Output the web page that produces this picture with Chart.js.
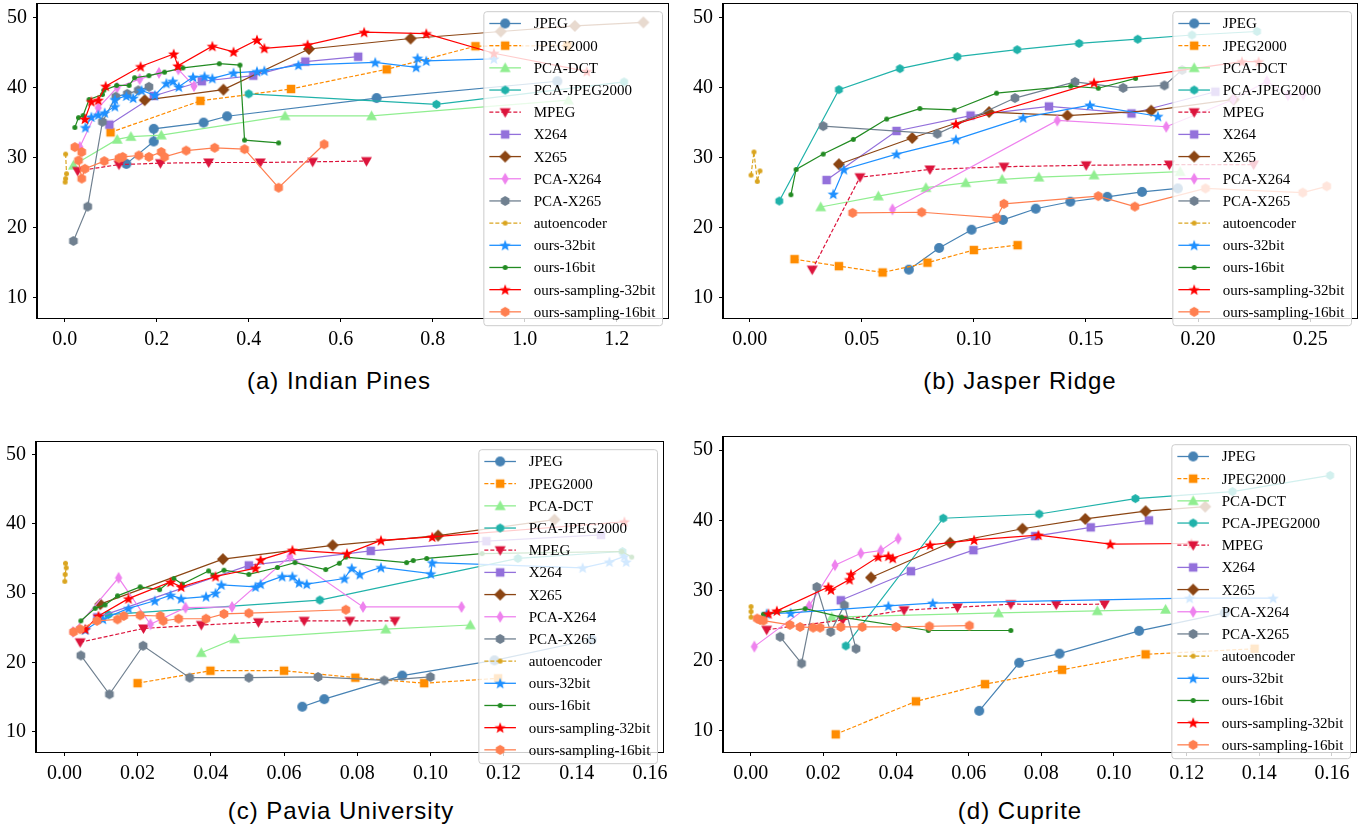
<!DOCTYPE html>
<html>
<head>
<meta charset="utf-8">
<script src="https://cdn.jsdelivr.net/npm/chart.js@4/dist/chart.umd.min.js"></script>
<style>
  body { margin: 0; background: #fff; }
  #fig { position: relative; width: 1371px; height: 831px; overflow: hidden; }
  canvas { position: absolute; }
  .title { position: absolute; font: 24px "Liberation Sans", Arial, sans-serif; letter-spacing: 1px;
           transform: translate(-50%, -50%); white-space: nowrap; color: #000; }
</style>
</head>
<body>
<div id="fig"></div>
<script>
// ---- data -------------------------------------------------------------
const methods = ['JPEG', 'JPEG2000', 'PCA-DCT', 'PCA-JPEG2000', 'MPEG', 'X264', 'X265', 'PCA-X264',
                 'PCA-X265', 'autoencoder', 'ours-32bit', 'ours-16bit', 'ours-sampling-32bit', 'ours-sampling-16bit'];
const panelTitles = ['(a) Indian Pines', '(b) Jasper Ridge', '(c) Pavia University', '(d) Cuprite'];
const yTicks = [10, 20, 30, 40, 50];
const pinesXTicks = [0, 0.2, 0.4, 0.6, 0.8, 1.0, 1.2];
const jasperXTicks = [0, 0.05, 0.10, 0.15, 0.20, 0.25];
const paviaXTicks = [0, 0.02, 0.04, 0.06, 0.08, 0.10, 0.12, 0.14, 0.16];
const cupriteXTicks = [0, 0.02, 0.04, 0.06, 0.08, 0.10, 0.12, 0.14, 0.16];

// (a) Indian Pines
const pines_jpeg = [[0.134,29.1],[0.1935,32.3],[0.1935,34.1],[0.302,35.0],[0.353,35.9],[0.678,38.5],[1.071,40.9]];
const pines_jpeg2000 = [[0.0996,33.6],[0.295,38.1],[0.492,39.8],[0.7,42.6],[0.893,45.9],[1.093,46.0]];
const pines_pcadct = [[0.019,28.9],[0.114,32.6],[0.144,33.0],[0.21,33.2],[0.479,35.95],[0.667,35.95],[1.095,38.2]];
const pines_pcajpeg2000 = [[0.4,39.1],[0.808,37.6],[1.216,40.8]];
const pines_mpeg = [[0.028,28.1],[0.118,29.0],[0.208,29.2],[0.313,29.3],[0.425,29.3],[0.539,29.4],[0.656,29.5]];
const pines_x264 = [[0.097,34.7],[0.1935,38.8],[0.298,40.9],[0.41,41.7],[0.523,43.7],[0.638,44.4]];
const pines_x265 = [[0.174,38.2],[0.345,39.7],[0.531,45.5],[0.752,47.0],[0.948,48.0],[1.109,48.8],[1.258,49.3]];
const pines_pcax264 = [[0.033,31.5],[0.073,37.1],[0.114,40.0],[0.163,41.2],[0.205,42.1],[0.247,42.6],[0.281,40.2]];
const pines_pcax265 = [[0.019,18.1],[0.05,23.0],[0.082,35.1],[0.111,38.7],[0.136,39.1],[0.16,39.6],[0.183,40.1]];
const pines_autoencoder = [[0.002,30.5],[0.004,27.7],[0.002,27.0],[0.001,26.5]];
const pines_ours32 = [[0.045,34.3],[0.058,35.8],[0.073,36.1],[0.087,36.4],[0.109,37.3],[0.109,38.3],[0.134,38.8],[0.149,38.5],
  [0.167,39.6],[0.196,38.9],[0.221,40.6],[0.235,40.9],[0.248,40.1],[0.279,41.5],[0.304,41.6],[0.321,41.3],[0.367,42.1],
  [0.418,42.3],[0.434,42.4],[0.508,43.2],[0.675,43.6],[0.764,42.9],[0.767,44.2],[0.786,43.8],[0.933,44.1]];
const pines_ours16 = [[0.022,34.3],[0.03,35.7],[0.04,36.0],[0.053,38.3],[0.082,39.0],[0.085,39.6],[0.113,40.3],[0.14,40.3],
  [0.152,41.4],[0.183,41.7],[0.217,42.2],[0.257,42.8],[0.336,43.4],[0.381,43.2],[0.391,32.5],[0.465,32.1]];
const pines_samp32 = [[0.044,35.5],[0.058,38.0],[0.073,38.2],[0.089,40.2],[0.165,43.0],[0.237,44.8],[0.246,43.1],[0.321,45.9],
  [0.367,45.1],[0.418,46.8],[0.434,45.6],[0.528,46.1],[0.651,47.9],[0.786,47.7],[0.933,44.9],[1.135,42.3]];
const pines_samp16 = [[0.022,31.5],[0.037,30.8],[0.03,29.6],[0.037,27.0],[0.044,28.4],[0.086,29.5],[0.118,29.9],[0.126,30.1],
  [0.161,30.3],[0.183,30.1],[0.21,30.8],[0.217,30.1],[0.264,31.0],[0.326,31.4],[0.391,31.2],[0.465,25.7],[0.564,31.9]];

// (b) Jasper Ridge
const jasper_jpeg = [[0.071,14.0],[0.0845,17.1],[0.099,19.7],[0.113,21.1],[0.1276,22.7],[0.143,23.7],[0.1595,24.4],[0.175,25.1],[0.191,25.6]];
const jasper_jpeg2000 = [[0.020,15.5],[0.0398,14.5],[0.0593,13.6],[0.0793,15.0],[0.1,16.8],[0.1195,17.5]];
const jasper_pcadct = [[0.0317,22.95],[0.0574,24.5],[0.0786,25.7],[0.0964,26.4],[0.1126,26.9],[0.129,27.2],[0.1536,27.5],[0.192,28.0]];
const jasper_pcajpeg2000 = [[0.0132,23.8],[0.0398,39.7],[0.067,42.7],[0.0926,44.4],[0.1193,45.4],[0.1469,46.3],[0.1731,46.9],[0.1973,47.5],[0.2263,48.0]];
const jasper_mpeg = [[0.0279,14.0],[0.0492,27.2],[0.0804,28.3],[0.1134,28.7],[0.1501,28.9],[0.1872,29.0],[0.2248,29.0]];
const jasper_x264 = [[0.0343,26.8],[0.0655,33.8],[0.0985,36.0],[0.1335,37.3],[0.1703,36.3],[0.2077,39.4]];
const jasper_x265 = [[0.0398,29.05],[0.0725,32.8],[0.1068,36.5],[0.1417,36.0],[0.1791,36.7],[0.2159,38.3]];
const jasper_pcax264 = [[0.0637,22.6],[0.1372,35.3],[0.1858,34.4],[0.2157,38.3],[0.2307,40.9],[0.2401,38.9],[0.2469,39.0]];
const jasper_pcax265 = [[0.0328,34.5],[0.0837,33.4],[0.1183,38.5],[0.1451,40.8],[0.1666,39.95],[0.185,40.3],[0.1929,42.5]];
const jasper_autoencoder = [[0.0006,27.5],[0.0019,30.8],[0.0034,26.6],[0.0046,28.1]];
const jasper_ours32 = [[0.0373,24.8],[0.042,28.3],[0.0655,30.5],[0.092,32.6],[0.122,35.7],[0.1518,37.5],[0.1821,35.9]];
const jasper_ours16 = [[0.0184,24.7],[0.0207,28.3],[0.0328,30.5],[0.0462,32.6],[0.0611,35.5],[0.0759,37.0],[0.0912,36.8],
  [0.1101,39.2],[0.1432,40.2],[0.1555,39.9],[0.1721,41.3]];
const jasper_samp32 = [[0.092,34.8],[0.1536,40.7],[0.2196,43.7],[0.227,43.7]];
const jasper_samp16 = [[0.0459,22.1],[0.0767,22.2],[0.1101,21.4],[0.1134,23.4],[0.1555,24.5],[0.1718,23.0],[0.2033,25.6],[0.2467,25.0],[0.2574,25.9]];

// (c) Pavia University
const pavia_jpeg = [[0.065,13.6],[0.071,14.7],[0.0923,18.1],[0.1175,20.3],[0.1441,23.3]];
const pavia_jpeg2000 = [[0.02,17.0],[0.0399,18.8],[0.06,18.8],[0.0795,17.8],[0.0983,17.0],[0.1185,17.7]];
const pavia_pcadct = [[0.0374,21.4],[0.0465,23.4],[0.0878,24.8],[0.1109,25.4]];
const pavia_pcajpeg2000 = [[0.012,26.9],[0.0698,29.0],[0.1239,35.0],[0.1525,36.0]];
const pavia_mpeg = [[0.0043,22.9],[0.0216,24.9],[0.0374,25.4],[0.053,25.8],[0.0655,26.0],[0.078,26.0],[0.0903,26.0]];
const pavia_x264 = [[0.009,26.5],[0.0504,34.0],[0.0837,36.1],[0.1153,37.5],[0.1466,38.4]];
const pavia_x265 = [[0.0098,28.4],[0.0433,34.9],[0.0733,36.9],[0.1021,38.3],[0.1339,40.6]];
const pavia_pcax264 = [[0.0023,24.4],[0.0148,32.2],[0.0235,25.5],[0.0331,27.9],[0.0458,28.0],[0.0616,35.3],[0.0816,28.0],[0.1085,28.0]];
const pavia_pcax265 = [[0.0045,21.0],[0.0123,15.4],[0.0215,22.4],[0.0342,17.8],[0.0504,17.8],[0.0693,17.9],[0.0874,17.4],[0.1,17.9]];
const pavia_autoencoder = [[0.0003,34.3],[0.0005,33.65],[0.0002,32.7],[0.0001,31.7]];
const pavia_ours32 = [[0.0057,24.7],[0.0105,26.25],[0.0175,27.8],[0.0247,28.9],[0.029,29.7],[0.0319,29.2],[0.0387,29.5],[0.0413,30.0],
  [0.0429,31.2],[0.0522,30.9],[0.0536,31.3],[0.0595,32.4],[0.0623,32.4],[0.0641,31.5],[0.0662,31.3],[0.0765,32.1],[0.0785,33.6],
  [0.0807,32.7],[0.0865,33.7],[0.1001,32.8],[0.1005,34.4],[0.1416,33.65],[0.1489,34.5],[0.153,35.3],[0.1535,34.5]];
const pavia_ours16 = [[0.0045,26.0],[0.0084,27.8],[0.0111,28.3],[0.0145,29.6],[0.0207,30.9],[0.026,30.5],[0.0299,32.1],[0.0322,31.3],
  [0.0394,33.2],[0.0406,32.6],[0.0436,33.3],[0.0504,32.7],[0.0582,33.7],[0.063,34.4],[0.0714,33.4],[0.0751,34.3],[0.0769,35.2],
  [0.0935,34.4],[0.0953,34.7],[0.099,35.0],[0.1141,35.7],[0.1523,36.0],[0.155,35.2]];
const pavia_samp32 = [[0.0057,24.8],[0.0093,26.7],[0.0175,29.2],[0.029,31.6],[0.0319,30.9],[0.0413,32.4],[0.0522,33.6],[0.0536,34.8],
  [0.0623,36.2],[0.0772,35.7],[0.0865,37.6],[0.1005,38.1],[0.153,40.3]];
const pavia_samp16 = [[0.0025,24.4],[0.0043,24.8],[0.0089,26.0],[0.0145,26.2],[0.0162,26.7],[0.0207,26.8],[0.0262,26.7],[0.027,26.0],
  [0.0312,26.3],[0.0387,26.3],[0.0436,27.0],[0.0504,27.1],[0.0769,27.6]];

// (d) Cuprite
const cuprite_jpeg = [[0.0629,12.85],[0.0739,19.7],[0.085,21.0],[0.1069,24.25],[0.1305,26.8]];
const cuprite_jpeg2000 = [[0.0234,9.5],[0.0455,14.2],[0.0645,16.65],[0.0857,18.7],[0.1087,20.9],[0.1387,21.7]];
const cuprite_pcadct = [[0.0223,26.2],[0.0682,26.8],[0.0954,27.1],[0.1142,27.3]];
const cuprite_pcajpeg2000 = [[0.0262,22.1],[0.053,40.3],[0.0794,40.9],[0.1059,43.1],[0.1326,44.1],[0.1595,46.4]];
const cuprite_mpeg = [[0.0044,24.4],[0.0253,25.8],[0.0422,27.2],[0.0569,27.6],[0.0716,28.05],[0.0841,28.0],[0.0974,28.05]];
const cuprite_x264 = [[0.0248,28.6],[0.0441,32.75],[0.0613,35.75],[0.0783,37.75],[0.0936,39.0],[0.1096,40.0]];
const cuprite_x265 = [[0.0331,31.85],[0.0549,36.8],[0.0748,38.8],[0.0921,40.2],[0.1087,41.3],[0.1251,41.95]];
const cuprite_pcax264 = [[0.001,22.0],[0.0161,27.8],[0.0232,33.6],[0.0303,35.3],[0.0358,35.7],[0.0406,37.4]];
const cuprite_pcax265 = [[0.0081,23.4],[0.014,19.6],[0.0182,30.5],[0.022,24.1],[0.0258,27.9],[0.029,21.7]];
const cuprite_autoencoder = [[0.0001,27.7],[0.0001,27.0],[0.0001,26.2]];
const cuprite_ours32 = [[0.0044,26.7],[0.011,26.8],[0.0379,27.8],[0.0501,28.2],[0.1208,28.9],[0.1438,28.9]];
const cuprite_ours16 = [[0.0035,26.6],[0.015,27.4],[0.025,26.2],[0.0489,24.3],[0.0716,24.3]];
const cuprite_samp32 = [[0.0049,26.7],[0.0072,27.1],[0.0214,30.5],[0.0221,30.1],[0.0272,31.55],[0.0276,32.3],[0.0351,34.8],
  [0.0379,34.9],[0.0391,34.6],[0.0494,36.5],[0.0615,37.2],[0.0792,37.9],[0.099,36.6],[0.1213,36.7]];
const cuprite_samp16 = [[0.0018,26.0],[0.0026,25.8],[0.0035,25.7],[0.0108,25.1],[0.0136,24.8],[0.0172,24.7],[0.0191,24.7],
  [0.0248,24.8],[0.0307,24.8],[0.04,24.8],[0.0492,24.9],[0.0602,25.0]];

// ---- styles -----------------------------------------------------------
const styles = [
  { color: '#4682b4', marker: 'o', size: 10 },
  { color: '#ff8c00', marker: 's', size: 10, dash: [4, 2] },
  { color: '#90ee90', marker: '^', size: 11 },
  { color: '#20b2aa', marker: 'h', size: 9 },
  { color: '#dc143c', marker: 'v', size: 11, dash: [4, 2] },
  { color: '#9370db', marker: 's', size: 10 },
  { color: '#8b4513', marker: 'D', size: 12 },
  { color: '#ee82ee', marker: 'd', size: 12 },
  { color: '#708090', marker: 'h', size: 10 },
  { color: '#daa520', marker: '.', size: 5, dash: [4, 2] },
  { color: '#1e90ff', marker: '*', size: 12 },
  { color: '#228b22', marker: '.', size: 5 },
  { color: '#ff0000', marker: '*', size: 12 },
  { color: '#ff7f50', marker: 'h', size: 10 }
];

function makeMarker(shape, color, size) {
  const c = document.createElement('canvas');
  const s = Math.ceil(size) + 2;
  c.width = c.height = s;
  const g = c.getContext('2d');
  g.fillStyle = color;
  g.translate(s / 2, s / 2);
  const r = size / 2;
  g.beginPath();
  const poly = pts => { pts.forEach((p, i) => i ? g.lineTo(p[0], p[1]) : g.moveTo(p[0], p[1])); g.closePath(); };
  if (shape === 'o' || shape === '.') g.arc(0, 0, r, 0, Math.PI * 2);
  else if (shape === 's') g.rect(-r * 0.85, -r * 0.85, r * 1.7, r * 1.7);
  else if (shape === '^') poly([[0, -r], [r, r * 0.75], [-r, r * 0.75]]);
  else if (shape === 'v') poly([[0, r], [r, -r * 0.75], [-r, -r * 0.75]]);
  else if (shape === 'D') poly([[0, -r], [r, 0], [0, r], [-r, 0]]);
  else if (shape === 'd') poly([[0, -r], [r * 0.6, 0], [0, r], [-r * 0.6, 0]]);
  else if (shape === 'h') {
    const pts = [];
    for (let k = 0; k < 6; k++) { const a = -Math.PI / 2 + k * Math.PI / 3; pts.push([r * Math.cos(a), r * Math.sin(a)]); }
    poly(pts);
  } else if (shape === '*') {
    const pts = [];
    for (let k = 0; k < 10; k++) {
      const a = -Math.PI / 2 + k * Math.PI / 5, rr = k % 2 ? r * 0.42 : r;
      pts.push([rr * Math.cos(a), rr * Math.sin(a) + r * 0.08]);
    }
    poly(pts);
  }
  g.fill();
  return c;
}
const markerImgs = styles.map(st => makeMarker(st.marker, st.color, st.size));

// frame + legend inside the axes, upper right
const frameAndLegend = {
  id: 'frameAndLegend',
  afterDraw(chart) {
    const ctx = chart.ctx, a = chart.chartArea;
    ctx.save();
    ctx.strokeStyle = '#000';
    ctx.lineWidth = 1;
    ctx.strokeRect(Math.round(a.left) - 0.5, Math.round(a.top) + 0.5, Math.round(a.right - a.left) + 1, Math.round(a.bottom - a.top));

    ctx.font = '15px "Liberation Serif", "Times New Roman", serif';
    const tw = Math.max(...methods.map(m => ctx.measureText(m).width));
    const w = 50 + tw + 7, h = 314;
    const right = a.right - 6, left = right - w, top = a.top + 8;
    ctx.beginPath();
    ctx.roundRect(left + 0.5, top + 0.5, w, h, 3);
    ctx.fillStyle = 'rgba(255,255,255,0.8)';
    ctx.fill();
    ctx.strokeStyle = '#cccccc';
    ctx.stroke();
    methods.forEach((m, i) => {
      const y = top + 12.3 + i * 22.18;
      const st = styles[i];
      ctx.strokeStyle = st.color;
      ctx.lineWidth = 1.3;
      ctx.setLineDash(st.dash || []);
      ctx.beginPath();
      ctx.moveTo(left + 6, y);
      ctx.lineTo(left + 37.6, y);
      ctx.stroke();
      ctx.setLineDash([]);
      const img = markerImgs[i];
      ctx.drawImage(img, left + 21.8 - img.width / 2, y - img.height / 2);
      ctx.fillStyle = '#000';
      ctx.textBaseline = 'middle';
      ctx.fillText(m, left + 50.3, y + 1);
    });
    ctx.restore();
  }
};

function fmt(v, digits) { return v.toFixed(digits); }

function makePanel(id, box, xr, yr, xTicks, xDigits, seriesList, title, titleX, titleY) {
  const fig = document.getElementById('fig');
  const canvas = document.createElement('canvas');
  const padL = 45, padT = 5, padR = 12, padB = 35;
  const w = (box.R - box.L) + padL + padR, h = (box.B - box.T) + padT + padB;
  canvas.id = id;
  canvas.width = w; canvas.height = h;
  canvas.style.left = (box.L - padL) + 'px';
  canvas.style.top = (box.T - padT) + 'px';
  canvas.style.width = w + 'px'; canvas.style.height = h + 'px';
  fig.appendChild(canvas);

  const t = document.createElement('div');
  t.className = 'title';
  t.textContent = title;
  t.style.left = titleX + 'px';
  t.style.top = titleY + 'px';
  fig.appendChild(t);

  const tickFont = { family: '"Liberation Serif", "Times New Roman", serif', size: 20 };
  new Chart(canvas.getContext('2d'), {
    type: 'scatter',
    data: {
      datasets: seriesList.map((s, i) => ({
        label: methods[i],
        data: s.map(p => ({ x: p[0], y: p[1] })),
        showLine: true,
        borderColor: styles[i].color,
        backgroundColor: styles[i].color,
        borderWidth: 1.2,
        borderDash: styles[i].dash || [],
        pointStyle: markerImgs[i],
        pointRadius: 4,
        order: methods.length - i
      }))
    },
    options: {
      responsive: false,
      animation: false,
      events: [],
      layout: { padding: { left: 0, top: padT, right: padR, bottom: 0 } },
      plugins: { legend: { display: false }, tooltip: { enabled: false } },
      scales: {
        x: {
          type: 'linear', min: xr[0], max: xr[1],
          afterFit: s => { s.height = padB; s.paddingLeft = 0; s.paddingRight = 0; },
          afterBuildTicks: s => { s.ticks = xTicks.map(v => ({ value: v })); },
          grid: { display: true, drawOnChartArea: false, drawTicks: true, tickLength: 4, color: '#000' },
          border: { display: true, color: '#000' },
          ticks: { color: '#000', font: tickFont, padding: 6, maxRotation: 0, autoSkip: false,
                   callback: v => fmt(v, xDigits) }
        },
        y: {
          type: 'linear', min: yr[0], max: yr[1],
          afterFit: s => { s.width = padL; s.paddingTop = 0; s.paddingBottom = 0; },
          afterBuildTicks: s => { s.ticks = yTicks.map(v => ({ value: v })); },
          grid: { display: true, drawOnChartArea: false, drawTicks: true, tickLength: 4, color: '#000' },
          border: { display: true, color: '#000' },
          ticks: { color: '#000', font: tickFont, padding: 6, autoSkip: false, callback: v => String(v) }
        }
      }
    },
    plugins: [frameAndLegend]
  });
}

makePanel('pines', { L: 37, T: 3, R: 668, B: 318 }, [-0.0602, 1.3115], [7.10, 52.04], pinesXTicks, 1,
  [pines_jpeg, pines_jpeg2000, pines_pcadct, pines_pcajpeg2000, pines_mpeg, pines_x264, pines_x265, pines_pcax264,
   pines_pcax265, pines_autoencoder, pines_ours32, pines_ours16, pines_samp32, pines_samp16], panelTitles[0], 339, 381);
makePanel('jasper', { L: 723, T: 3, R: 1357, B: 318 }, [-0.0119, 0.2709], [7.10, 52.04], jasperXTicks, 2,
  [jasper_jpeg, jasper_jpeg2000, jasper_pcadct, jasper_pcajpeg2000, jasper_mpeg, jasper_x264, jasper_x265, jasper_pcax264,
   jasper_pcax265, jasper_autoencoder, jasper_ours32, jasper_ours16, jasper_samp32, jasper_samp16], panelTitles[1], 1020, 381);
makePanel('pavia', { L: 36, T: 441, R: 663, B: 752 }, [-0.00776, 0.16355], [7.07, 51.92], paviaXTicks, 2,
  [pavia_jpeg, pavia_jpeg2000, pavia_pcadct, pavia_pcajpeg2000, pavia_mpeg, pavia_x264, pavia_x265, pavia_pcax264,
   pavia_pcax265, pavia_autoencoder, pavia_ours32, pavia_ours16, pavia_samp32, pavia_samp16], panelTitles[2], 341, 811);
makePanel('cuprite', { L: 723, T: 436, R: 1356, B: 752 }, [-0.00762, 0.16661], [6.98, 51.99], cupriteXTicks, 2,
  [cuprite_jpeg, cuprite_jpeg2000, cuprite_pcadct, cuprite_pcajpeg2000, cuprite_mpeg, cuprite_x264, cuprite_x265, cuprite_pcax264,
   cuprite_pcax265, cuprite_autoencoder, cuprite_ours32, cuprite_ours16, cuprite_samp32, cuprite_samp16], panelTitles[3], 1020, 811);
</script>
</body>
</html>
